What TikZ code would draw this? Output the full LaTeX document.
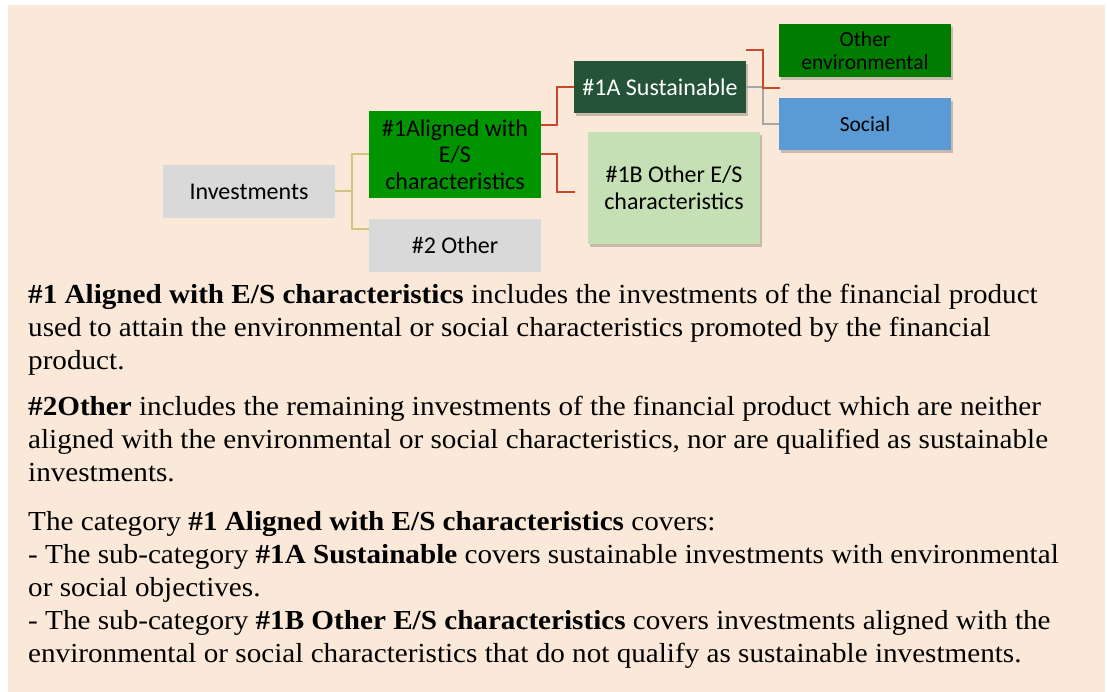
\documentclass[tikz,border=0pt]{standalone}
\usepackage{fontspec}
\setmainfont[FakeStretch=1.06]{Liberation Serif}
\newfontfamily\boxfont{Carlito}
\usetikzlibrary{calc,shadows}
\definecolor{bgbeige}{HTML}{FAE8D8}
\definecolor{boxgray}{HTML}{D9D9D9}
\definecolor{aligngreen}{HTML}{009400}
\definecolor{sustgreen}{HTML}{245337}
\definecolor{lightgreen}{HTML}{C5E0B4}
\definecolor{envgreen}{HTML}{007D00}
\definecolor{socialblue}{HTML}{5B9BD5}
\definecolor{linkolive}{HTML}{CFC67E}
\definecolor{linkred}{HTML}{C9482A}
\definecolor{linkgray}{HTML}{A6A6A6}
\tikzset{
  catbox/.style={minimum width=172pt, inner sep=2pt, align=center,
    font=\boxfont\fontsize{24}{26.5}\selectfont, text=black},
  smallbox/.style={catbox, font=\boxfont\fontsize{21.5}{23.5}\selectfont},
  shade3d/.style={drop shadow={shadow xshift=2pt, shadow yshift=-3pt, opacity=0.2, fill=black}},
  txt/.style={anchor=base west, inner sep=0pt, font=\fontsize{27.5}{33}\selectfont},
  olivelink/.style={draw=linkolive, line width=2pt},
  redlink/.style={draw=linkred, line width=2pt},
  graylink/.style={draw=linkgray, line width=1.6pt}
}
\begin{document}
\begin{tikzpicture}[x=1pt,y=-1pt]
\useasboundingbox (0,0) rectangle (1107,692);
\fill[white] (0,0) rectangle (1107,692);
\fill[bgbeige] (8,5) rectangle (1105,692);

% boxes
\node[catbox, fill=boxgray, minimum height=53pt] (inv) at (249,191.5) {Investments};
\node[catbox, fill=aligngreen, minimum height=87pt] (al) at (455,154.5) {\#1Aligned with\\E/S\\characteristics};
\node[catbox, fill=boxgray, minimum height=53pt] (o2) at (455,245.5) {\#2 Other};
\node[catbox, fill=sustgreen, text=white, minimum height=52pt, shade3d] (sa) at (660,87) {\#1A Sustainable};
\node[catbox, fill=lightgreen, minimum height=112pt, shade3d] (ob) at (674,188) {\#1B Other E/S\\characteristics};
\node[smallbox, fill=envgreen, minimum height=53pt, shade3d] (oe) at (865,50.5) {Other\\environmental};
\node[smallbox, fill=socialblue, minimum height=52pt, shade3d] (so) at (865,124) {Social};

% connectors
\draw[olivelink] (inv.east) -- ++(17,0) |- (al.west);
\draw[olivelink] (inv.east) -- ++(17,0) |- ($(o2.north west)+(0,10)$);
\draw[redlink] ($(al.north east)+(0,14)$) -- ++(16,0) |- (sa.west);
\coordinate (obend) at ($(ob.west)+(-13,4)$);
\draw[redlink] (al.east) -- ++(16,0) |- (obend);
\draw[graylink] (sa.east) -- ++(17,0) |- (so.west);
\coordinate (oeend) at ($(oe.south west)+(1,11)$);
\draw[redlink] ($(sa.north east)+(0,-11)$) -- ++(17,0) |- (oeend);

% explanatory text
\node[txt] (t1) at (28,303.5) {\textbf{\#1 Aligned with E/S characteristics} includes the investments of the financial product};
\node[txt] (t2) at (28,336.5) {used to attain the environmental or social characteristics promoted by the financial};
\node[txt] (t3) at (28,369.5) {product.};
\node[txt] (t4) at (28,415.5) {\textbf{\#2Other} includes the remaining investments of the financial product which are neither};
\node[txt] (t5) at (28,448.5) {aligned with the environmental or social characteristics, nor are qualified as sustainable};
\node[txt] (t6) at (28,481.5) {investments.};
\node[txt] (t7) at (28,530) {The category \textbf{\#1 Aligned with E/S characteristics} covers:};
\node[txt] (t8) at (28,563) {- The sub-category \textbf{\#1A Sustainable} covers sustainable investments with environmental};
\node[txt] (t9) at (28,596) {or social objectives.};
\node[txt] (t10) at (28,629) {- The sub-category \textbf{\#1B Other E/S characteristics} covers investments aligned with the};
\node[txt] (t11) at (28,662) {environmental or social characteristics that do not qualify as sustainable investments.};
\end{tikzpicture}
\end{document}
